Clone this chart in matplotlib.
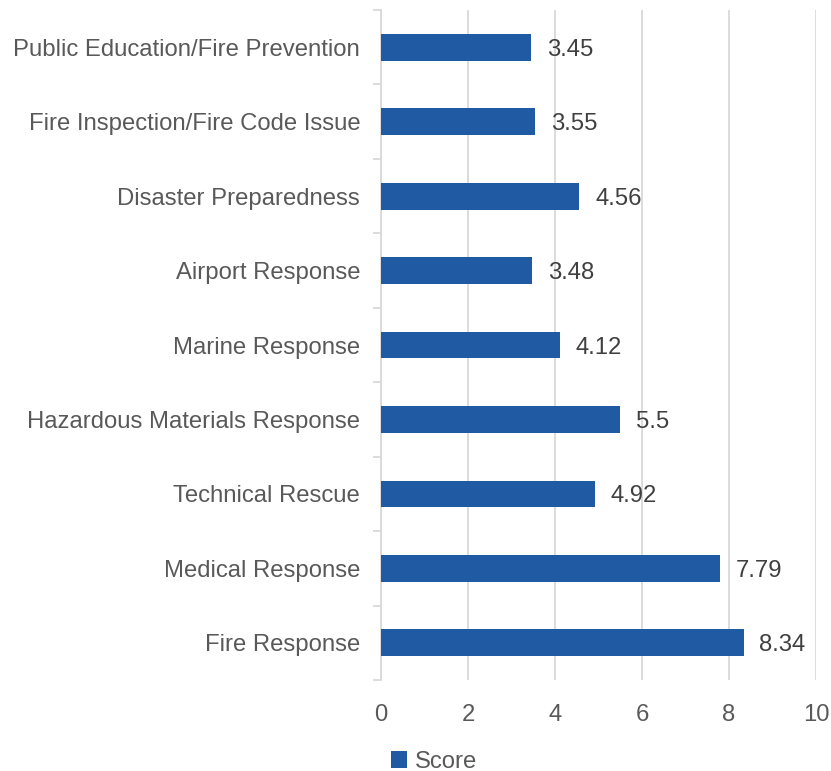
import numpy as np
import matplotlib.pyplot as plt

plt.rcParams['font.family'] = ['Liberation Sans', 'DejaVu Sans']

categories = [
    "Fire Response",
    "Medical Response",
    "Technical Rescue",
    "Hazardous Materials Response",
    "Marine Response",
    "Airport Response",
    "Disaster Preparedness",
    "Fire Inspection/Fire Code Issue",
    "Public Education/Fire Prevention",
]
scores = [8.34, 7.79, 4.92, 5.5, 4.12, 3.48, 4.56, 3.55, 3.45]
score_labels = ["8.34", "7.79", "4.92", "5.5", "4.12", "3.48", "4.56", "3.55", "3.45"]
x_ticks = [0, 2, 4, 6, 8, 10]

BAR = "#1F5AA3"
TXT = "#595959"
GRID = "#D9D9D9"
FS = 17.2

fig = plt.figure(figsize=(8.31, 7.71), dpi=100)
ax = fig.add_axes([0.4585, 0.118, 0.5235, 0.869])

y = np.arange(len(categories))
bars = ax.barh(y, scores, height=0.36, color=BAR, label="Score", zorder=3)

for b, lab in zip(bars, score_labels):
    ax.text(b.get_width() + 0.36, b.get_y() + b.get_height() / 2, lab,
            va="center_baseline", ha="left", fontsize=FS, color="#404040")

ax.set_xlim(0, 10)
ax.set_ylim(-0.5, len(categories) - 0.5)
ax.set_xticks(x_ticks)
ax.set_xticklabels([str(t) for t in x_ticks], fontsize=FS, color=TXT)
ax.xaxis.grid(True, color=GRID, linewidth=1.3, zorder=0)
ax.tick_params(axis="x", length=0, pad=17)

ax.set_yticks(y)
ax.set_yticklabels(categories, fontsize=FS, color=TXT)
ax.tick_params(axis="y", which="major", length=0, pad=15)
ax.set_yticks(np.arange(-0.5, len(categories), 1.0), minor=True)
ax.tick_params(axis="y", which="minor", length=6, color=GRID, width=1.3)

for s in ["top", "right", "bottom"]:
    ax.spines[s].set_visible(False)
ax.spines["left"].set_color(GRID)
ax.spines["left"].set_linewidth(1.3)

fig.legend(loc="lower center", bbox_to_anchor=(0.522, -0.03), frameon=False,
           fontsize=FS, labelcolor=TXT, handlelength=0.7, handleheight=0.7,
           handletextpad=0.3)

fig.savefig("out.png", dpi=100)
